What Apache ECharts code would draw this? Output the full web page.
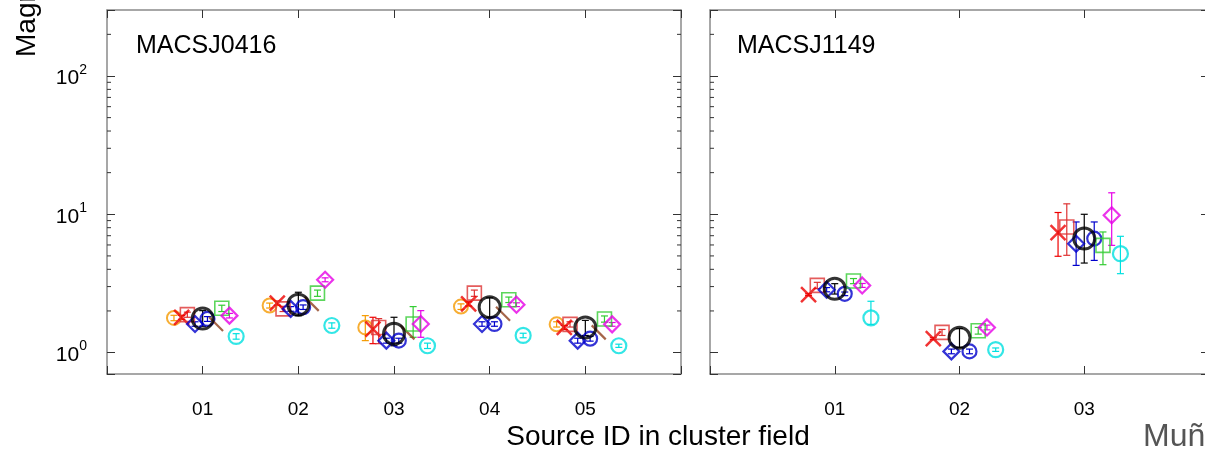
<!DOCTYPE html>
<html>
<head>
<meta charset="utf-8">
<script src="https://cdn.jsdelivr.net/npm/echarts@6/dist/echarts.min.js"></script>
<style>
  html, body { margin: 0; padding: 0; background: #fff; }
  #chart { width: 1205px; height: 452px; }
</style>
</head>
<body>
<div id="chart"></div>
<script>
// ---------------- data ----------------
const sources0416 = ['01', '02', '03', '04', '05'];
const sources1149 = ['01', '02', '03'];
const yTickValues = [1, 10, 100];
const minorTickValues = [2, 3, 4, 5, 6, 7, 8, 9, 20, 30, 40, 50, 60, 70, 80, 90, 200];

// MACSJ0416 : value, lower, upper
const orange0416   = [1.78, 2.19, 1.52, 2.15, 1.60];
const orange0416Lo = [1.70, 2.10, 1.22, 2.05, 1.53];
const orange0416Hi = [1.86, 2.28, 1.85, 2.25, 1.67];
const redX0416     = [1.80, 2.28, 1.48, 2.25, 1.52];
const redX0416Lo   = [1.74, 2.20, 1.16, 2.17, 1.47];
const redX0416Hi   = [1.86, 2.36, 1.80, 2.33, 1.57];
const redSq0416    = [1.88, 2.07, 1.52, 2.69, 1.60];
const redSq0416Lo  = [1.80, 1.98, 1.16, 2.55, 1.53];
const redSq0416Hi  = [1.96, 2.16, 1.76, 2.83, 1.67];
const blueDia0416   = [1.61, 2.07, 1.22, 1.61, 1.22];
const blueDia0416Lo = [1.55, 1.99, 1.17, 1.55, 1.17];
const blueDia0416Hi = [1.67, 2.15, 1.27, 1.67, 1.27];
const blueCir0416   = [1.75, 2.13, 1.22, 1.61, 1.26];
const blueCir0416Lo = [1.68, 2.05, 1.17, 1.55, 1.21];
const blueCir0416Hi = [1.82, 2.21, 1.27, 1.67, 1.31];
const brown0416    = [1.61, 2.25, 1.40, 1.91, 1.40];
const green0416    = [2.09, 2.69, 1.61, 2.41, 1.75];
const green0416Lo  = [1.98, 2.55, 1.29, 2.30, 1.66];
const green0416Hi  = [2.20, 2.83, 2.15, 2.52, 1.84];
const magenta0416   = [1.85, 3.36, 1.61, 2.22, 1.60];
const magenta0416Lo = [1.78, 3.25, 1.29, 2.15, 1.55];
const magenta0416Hi = [1.92, 3.47, 2.01, 2.29, 1.65];
const cyan0416     = [1.31, 1.57, 1.12, 1.33, 1.12];
const cyan0416Lo   = [1.25, 1.50, 1.07, 1.28, 1.09];
const cyan0416Hi   = [1.37, 1.64, 1.17, 1.38, 1.15];
const black0416    = [1.76, 2.22, 1.37, 2.13, 1.52];
const black0416Lo  = [1.55, 1.85, 1.12, 1.80, 1.33];
const black0416Hi  = [2.01, 2.73, 1.80, 2.49, 1.71];

// MACSJ1149
const redX1149     = [2.62, 1.26, 7.37];
const redX1149Lo   = [2.58, 1.24, 4.97];
const redX1149Hi   = [2.66, 1.28, 10.3];
const redSq1149    = [3.06, 1.40, 8.09];
const redSq1149Lo  = [2.90, 1.33, 5.05];
const redSq1149Hi  = [3.22, 1.47, 11.9];
const blueDia1149   = [2.85, 1.02, 6.13];
const blueDia1149Lo = [2.75, 0.98, 4.27];
const blueDia1149Hi = [2.95, 1.06, 8.80];
const blueCir1149   = [2.66, 1.02, 6.67];
const blueCir1149Lo = [2.58, 0.98, 4.64];
const blueCir1149Hi = [2.74, 1.06, 8.80];
const green1149    = [3.29, 1.44, 5.96];
const green1149Lo  = [3.15, 1.36, 4.32];
const green1149Hi  = [3.43, 1.52, 7.45];
const magenta1149   = [3.06, 1.52, 9.84];
const magenta1149Lo = [2.96, 1.46, 5.96];
const magenta1149Hi = [3.16, 1.58, 14.3];
const cyan1149     = [1.78, 1.05, 5.19];
const cyan1149Lo   = [1.60, 1.02, 3.72];
const cyan1149Hi   = [2.35, 1.08, 6.93];
const black1149    = [2.89, 1.28, 6.67];
const black1149Lo  = [2.65, 1.09, 4.44];
const black1149Hi  = [3.15, 1.49, 10.0];

// ---------------- styles ----------------
const FONT = "'Liberation Sans', Arial, Helvetica, sans-serif";
const STY = {
  orange:  { color: '#f59a00', symbol: 'circle',  size: 14, bw: 2 },
  redX:    { color: '#ee0000', symbol: 'path://M0,0L10,10M10,0L0,10', size: 15, bw: 2.5 },
  redSq:   { color: '#dd3333', symbol: 'rect',    size: 14, bw: 1.6 },
  blueDia: { color: '#0000cc', symbol: 'diamond', size: 16, bw: 2.2 },
  blueCir: { color: '#0000cc', symbol: 'circle',  size: 14, bw: 2.2 },
  brown:   { color: '#8f3f1c', symbol: 'path://M0,0L10,10', size: 14, bw: 2.2 },
  green:   { color: '#33cc33', symbol: 'rect',    size: 14, bw: 1.6 },
  magenta: { color: '#e600e6', symbol: 'diamond', size: 16, bw: 2.2 },
  cyan:    { color: '#00e0e0', symbol: 'circle',  size: 15, bw: 2.2 },
  black:   { color: '#000000', symbol: 'circle',  size: 21, bw: 3 }
};
// horizontal jitter of each model around its source (data units)
const OFF0416 = { orange: -0.30, redX: -0.22, redSq: -0.16, blueDia: -0.08, blueCir: 0.05, brown: 0.14, green: 0.20, magenta: 0.28, cyan: 0.35, black: 0 };
const OFF1149 = { redX: -0.21, redSq: -0.14, blueDia: -0.065, blueCir: 0.08, green: 0.15, magenta: 0.22, cyan: 0.29, black: 0 };

const panel0416 = [
  ['orange', orange0416, orange0416Lo, orange0416Hi],
  ['redX', redX0416, redX0416Lo, redX0416Hi],
  ['redSq', redSq0416, redSq0416Lo, redSq0416Hi],
  ['blueDia', blueDia0416, blueDia0416Lo, blueDia0416Hi],
  ['blueCir', blueCir0416, blueCir0416Lo, blueCir0416Hi],
  ['brown', brown0416, null, null],
  ['green', green0416, green0416Lo, green0416Hi],
  ['magenta', magenta0416, magenta0416Lo, magenta0416Hi],
  ['cyan', cyan0416, cyan0416Lo, cyan0416Hi],
  ['black', black0416, black0416Lo, black0416Hi]
];
const panel1149 = [
  ['redX', redX1149, redX1149Lo, redX1149Hi],
  ['redSq', redSq1149, redSq1149Lo, redSq1149Hi],
  ['blueDia', blueDia1149, blueDia1149Lo, blueDia1149Hi],
  ['blueCir', blueCir1149, blueCir1149Lo, blueCir1149Hi],
  ['green', green1149, green1149Lo, green1149Hi],
  ['magenta', magenta1149, magenta1149Lo, magenta1149Hi],
  ['cyan', cyan1149, cyan1149Lo, cyan1149Hi],
  ['black', black1149, black1149Lo, black1149Hi]
];

const FRAME = { color: '#8a8a8a', width: 1.5 };
const TICKC = '#333';

function xAx(grid, max, pos, labels, cats) {
  return {
    type: 'value', gridIndex: grid, min: 0, max: max, interval: 1, position: pos,
    axisLine: { show: true, onZero: false, lineStyle: FRAME },
    axisTick: { show: true, inside: true, length: 8, lineStyle: { color: TICKC, width: 1 } },
    splitLine: { show: false },
    axisLabel: {
      show: labels, margin: 26, color: '#000', fontSize: 19, fontFamily: FONT,
      formatter: function (v) { const i = Math.round(v) - 1; return (Math.abs(v - Math.round(v)) < 1e-6 && i >= 0 && i < cats.length) ? cats[i] : ''; }
    }
  };
}
function yAx(grid, pos, labels) {
  return {
    type: 'log', logBase: 10, gridIndex: grid, min: 0.7, max: 300, position: pos,
    axisLine: { show: true, onZero: false, lineStyle: FRAME },
    axisTick: { show: true, inside: true, length: 8, lineStyle: { color: TICKC, width: 1 } },
    splitLine: { show: false },
    axisLabel: {
      show: labels, margin: 20, color: '#000', fontFamily: FONT,
      formatter: function (v) {
        const l = Math.log10(v), e = Math.round(l);
        if (Math.abs(l - e) > 1e-6 || yTickValues.indexOf(Math.pow(10, e)) < 0) return '';
        return '{b|10}{s|' + e + '}';
      },
      rich: {
        b: { fontSize: 21, lineHeight: 26, fontFamily: FONT, color: '#000', verticalAlign: 'bottom' },
        s: { fontSize: 14, lineHeight: 26, fontFamily: FONT, color: '#000', verticalAlign: 'top' }
      }
    }
  };
}

const series = [];
function addPanel(panel, off, xi, yi) {
  panel.forEach(function (row) {
    const key = row[0], vals = row[1], lo = row[2], hi = row[3], st = STY[key];
    if (lo) {
      series.push({
        type: 'custom', xAxisIndex: xi, yAxisIndex: yi, z: 3, silent: true,
        data: vals.map(function (v, i) { return [i + 1 + off[key], lo[i], hi[i]]; }),
        encode: { x: 0, y: [1, 2] },
        renderItem: function (params, api) {
          const x = api.value(0);
          const p1 = api.coord([x, api.value(2)]);
          const p2 = api.coord([x, api.value(1)]);
          const cw = 3.5;
          const s = { stroke: st.color, lineWidth: 1.2 };
          return { type: 'group', children: [
            { type: 'line', shape: { x1: p1[0], y1: p1[1], x2: p2[0], y2: p2[1] }, style: s },
            { type: 'line', shape: { x1: p1[0] - cw, y1: p1[1], x2: p1[0] + cw, y2: p1[1] }, style: s },
            { type: 'line', shape: { x1: p2[0] - cw, y1: p2[1], x2: p2[0] + cw, y2: p2[1] }, style: s }
          ] };
        }
      });
    }
    series.push({
      type: 'scatter', xAxisIndex: xi, yAxisIndex: yi, z: key === 'black' ? 5 : 4, silent: true,
      symbol: st.symbol, symbolSize: st.size,
      itemStyle: { color: 'rgba(0,0,0,0)', borderColor: st.color, borderWidth: st.bw },
      data: vals.map(function (v, i) { return [i + 1 + off[key], v]; })
    });
  });
}
addPanel(panel0416, OFF0416, 0, 0);
addPanel(panel1149, OFF1149, 2, 2);

// minor log ticks on both sides of each panel
function addMinor(xi, yi, xmax) {
  series.push({
    type: 'custom', xAxisIndex: xi, yAxisIndex: yi, silent: true, z: 6,
    data: minorTickValues.map(function (v) { return [0, v]; }),
    encode: { x: 0, y: 1 },
    renderItem: function (params, api) {
      const v = api.value(1);
      const a = api.coord([0, v]), b = api.coord([xmax, v]);
      const s = { stroke: TICKC, lineWidth: 1 };
      return { type: 'group', children: [
        { type: 'line', shape: { x1: a[0], y1: a[1], x2: a[0] + 4, y2: a[1] }, style: s },
        { type: 'line', shape: { x1: b[0], y1: b[1], x2: b[0] - 4, y2: b[1] }, style: s }
      ] };
    }
  });
}
addMinor(0, 0, 6);
addMinor(2, 2, 4);

const chart = echarts.init(document.getElementById('chart'), null, { renderer: 'canvas' });
chart.setOption({
  animation: false,
  backgroundColor: '#fff',
  grid: [
    { left: 107, top: 10, width: 574, height: 364, outerBoundsMode: 'none', containLabel: false },
    { left: 710, top: 10, width: 499, height: 364, outerBoundsMode: 'none', containLabel: false }
  ],
  xAxis: [
    xAx(0, 6, 'bottom', true, sources0416),
    xAx(0, 6, 'top', false, sources0416),
    xAx(1, 4, 'bottom', true, sources1149),
    xAx(1, 4, 'top', false, sources1149)
  ],
  yAxis: [
    yAx(0, 'left', true),
    yAx(0, 'right', false),
    yAx(1, 'left', false),
    yAx(1, 'right', false)
  ],
  graphic: [
    { type: 'text', left: 136, top: 34, style: { text: 'MACSJ0416', fontSize: 25, fontFamily: FONT, fill: '#000' } },
    { type: 'text', left: 737, top: 34, style: { text: 'MACSJ1149', fontSize: 25, fontFamily: FONT, fill: '#000' } },
    { type: 'text', x: 658, y: 437, style: { text: 'Source ID in cluster field', fontSize: 28, fontFamily: FONT, fill: '#000', align: 'center', verticalAlign: 'middle' } },
    { type: 'text', x: 27, y: 57, rotation: Math.PI / 2, style: { text: 'Magnification', fontSize: 28, fontFamily: FONT, fill: '#000', align: 'left', verticalAlign: 'middle' } },
    { type: 'text', x: 1143, y: 437, style: { text: 'Muñoz', fontSize: 32, fontFamily: FONT, fill: '#555', align: 'left', verticalAlign: 'middle' } }
  ],
  series: series
});
</script>
</body>
</html>
